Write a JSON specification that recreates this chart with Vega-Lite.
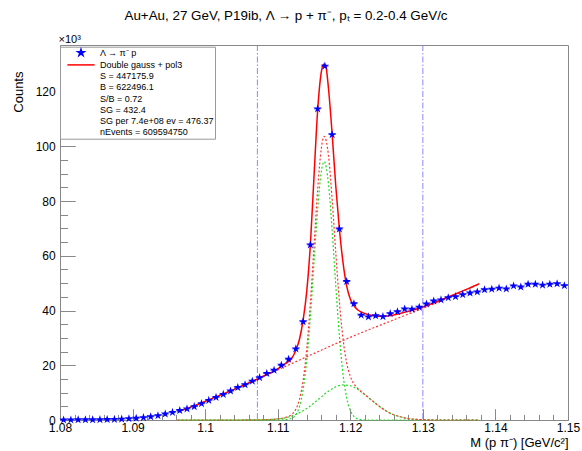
{
  "$schema": "https://vega.github.io/schema/vega-lite/v6.json",
  "width": 508,
  "height": 375,
  "autosize": {"type": "none"},
  "padding": {"left": 60, "top": 45, "right": 14, "bottom": 31},
  "background": "white",
  "config": {
    "font": "Liberation Sans",
    "view": {"stroke": "#888", "strokeWidth": 1}
  },
  "title": {
    "text": "Au+Au, 27 GeV, P19ib,  Λ → p + π⁻, pₜ = 0.2-0.4 GeV/c",
    "font": "Liberation Sans",
    "fontSize": 13.4,
    "fontWeight": "normal",
    "color": "black",
    "anchor": "middle",
    "baseline": "middle",
    "dx": -28,
    "offset": 4
  },
  "datasets": {
    "hist": [
      {"m": 1.0805, "c": 50}, {"m": 1.0815, "c": 50}, {"m": 1.0825, "c": 100}, {"m": 1.0835, "c": 100},
      {"m": 1.0845, "c": 100}, {"m": 1.0855, "c": 150}, {"m": 1.0865, "c": 200}, {"m": 1.0875, "c": 250},
      {"m": 1.0885, "c": 350}, {"m": 1.0895, "c": 500}, {"m": 1.0905, "c": 650}, {"m": 1.0915, "c": 900},
      {"m": 1.0925, "c": 1200}, {"m": 1.0935, "c": 1600}, {"m": 1.0945, "c": 2200}, {"m": 1.0955, "c": 2800},
      {"m": 1.0965, "c": 3500}, {"m": 1.0975, "c": 4100}, {"m": 1.0985, "c": 4900}, {"m": 1.0995, "c": 6000},
      {"m": 1.1005, "c": 7200}, {"m": 1.1015, "c": 8300}, {"m": 1.1025, "c": 9400}, {"m": 1.1035, "c": 10600},
      {"m": 1.1045, "c": 11900}, {"m": 1.1055, "c": 12900}, {"m": 1.1065, "c": 14200}, {"m": 1.1075, "c": 15500},
      {"m": 1.1085, "c": 17000}, {"m": 1.1095, "c": 18200}, {"m": 1.1105, "c": 20000}, {"m": 1.1115, "c": 22200},
      {"m": 1.1125, "c": 26000}, {"m": 1.1135, "c": 35900}, {"m": 1.1145, "c": 64000}, {"m": 1.1155, "c": 113700},
      {"m": 1.1165, "c": 129300}, {"m": 1.1175, "c": 104300}, {"m": 1.1185, "c": 69800}, {"m": 1.1195, "c": 50600},
      {"m": 1.1205, "c": 42500}, {"m": 1.1215, "c": 38300}, {"m": 1.1225, "c": 37700}, {"m": 1.1235, "c": 38100},
      {"m": 1.1245, "c": 37800}, {"m": 1.1255, "c": 38900}, {"m": 1.1265, "c": 39600}, {"m": 1.1275, "c": 40600},
      {"m": 1.1285, "c": 40500}, {"m": 1.1295, "c": 41200}, {"m": 1.1305, "c": 42400}, {"m": 1.1315, "c": 43500},
      {"m": 1.1325, "c": 43900}, {"m": 1.1335, "c": 44700}, {"m": 1.1345, "c": 45100}, {"m": 1.1355, "c": 45800},
      {"m": 1.1365, "c": 46400}, {"m": 1.1375, "c": 46800}, {"m": 1.1385, "c": 47600}, {"m": 1.1395, "c": 47800},
      {"m": 1.1405, "c": 48200}, {"m": 1.1415, "c": 47900}, {"m": 1.1425, "c": 49000}, {"m": 1.1435, "c": 48600},
      {"m": 1.1445, "c": 49600}, {"m": 1.1455, "c": 49600}, {"m": 1.1465, "c": 49300}, {"m": 1.1475, "c": 49600},
      {"m": 1.1485, "c": 49800}, {"m": 1.1495, "c": 49100}
    ],
    "fit": [
      {"m": 1.0962, "c": 3000}, {"m": 1.098, "c": 4700}, {"m": 1.1, "c": 6800}, {"m": 1.102, "c": 9000},
      {"m": 1.104, "c": 11200}, {"m": 1.106, "c": 13500}, {"m": 1.108, "c": 16000}, {"m": 1.11, "c": 18700},
      {"m": 1.111, "c": 20500}, {"m": 1.112, "c": 22800}, {"m": 1.1125, "c": 25500}, {"m": 1.113, "c": 29500},
      {"m": 1.1135, "c": 36500}, {"m": 1.114, "c": 47000}, {"m": 1.1145, "c": 64000}, {"m": 1.115, "c": 89000},
      {"m": 1.1155, "c": 113000}, {"m": 1.116, "c": 127000}, {"m": 1.1163, "c": 130000}, {"m": 1.1166, "c": 129500},
      {"m": 1.117, "c": 121000}, {"m": 1.1175, "c": 104500}, {"m": 1.118, "c": 85500}, {"m": 1.1185, "c": 69800},
      {"m": 1.119, "c": 57500}, {"m": 1.1195, "c": 49000}, {"m": 1.12, "c": 44200}, {"m": 1.1205, "c": 41700},
      {"m": 1.121, "c": 40300}, {"m": 1.122, "c": 38900}, {"m": 1.123, "c": 38200}, {"m": 1.124, "c": 37900},
      {"m": 1.125, "c": 38000}, {"m": 1.126, "c": 38400}, {"m": 1.127, "c": 39000}, {"m": 1.128, "c": 39700},
      {"m": 1.13, "c": 41300}, {"m": 1.132, "c": 43300}, {"m": 1.134, "c": 45500}, {"m": 1.136, "c": 47700},
      {"m": 1.1378, "c": 49800}
    ],
    "bkg": [
      {"m": 1.0962, "c": 3000}, {"m": 1.098, "c": 4700}, {"m": 1.1, "c": 6800}, {"m": 1.102, "c": 9000},
      {"m": 1.104, "c": 11200}, {"m": 1.106, "c": 13500}, {"m": 1.108, "c": 15900}, {"m": 1.11, "c": 18300},
      {"m": 1.112, "c": 20700}, {"m": 1.114, "c": 23100}, {"m": 1.116, "c": 25500}, {"m": 1.118, "c": 27900},
      {"m": 1.12, "c": 30200}, {"m": 1.122, "c": 32400}, {"m": 1.124, "c": 34500}, {"m": 1.126, "c": 36600},
      {"m": 1.128, "c": 38700}, {"m": 1.13, "c": 40800}, {"m": 1.132, "c": 43000}, {"m": 1.134, "c": 45300},
      {"m": 1.136, "c": 47600}, {"m": 1.1378, "c": 49700}
    ],
    "gsum": [
      {"m": 1.0962, "c": 0}, {"m": 1.104, "c": 0}, {"m": 1.108, "c": 100}, {"m": 1.11, "c": 400},
      {"m": 1.111, "c": 900}, {"m": 1.112, "c": 2200}, {"m": 1.1125, "c": 3900}, {"m": 1.113, "c": 7600},
      {"m": 1.1135, "c": 14400}, {"m": 1.114, "c": 25900}, {"m": 1.1145, "c": 42800}, {"m": 1.115, "c": 63500},
      {"m": 1.1155, "c": 84100}, {"m": 1.116, "c": 99000}, {"m": 1.1164, "c": 103600}, {"m": 1.117, "c": 96600},
      {"m": 1.1175, "c": 80600}, {"m": 1.118, "c": 61200}, {"m": 1.1185, "c": 43200}, {"m": 1.119, "c": 29600},
      {"m": 1.1195, "c": 20900}, {"m": 1.12, "c": 16000}, {"m": 1.1205, "c": 13200}, {"m": 1.121, "c": 11600},
      {"m": 1.122, "c": 9300}, {"m": 1.123, "c": 7100}, {"m": 1.124, "c": 5000}, {"m": 1.125, "c": 3200},
      {"m": 1.126, "c": 1900}, {"m": 1.127, "c": 1100}, {"m": 1.128, "c": 500}, {"m": 1.129, "c": 250},
      {"m": 1.13, "c": 100}, {"m": 1.132, "c": 0}, {"m": 1.1378, "c": 0}
    ],
    "g1": [
      {"m": 1.0962, "c": 0}, {"m": 1.11, "c": 0}, {"m": 1.111, "c": 100}, {"m": 1.112, "c": 700},
      {"m": 1.1125, "c": 1900}, {"m": 1.113, "c": 4900}, {"m": 1.1135, "c": 11000}, {"m": 1.114, "c": 21700},
      {"m": 1.1145, "c": 37600}, {"m": 1.115, "c": 57300}, {"m": 1.1155, "c": 76800}, {"m": 1.116, "c": 90600},
      {"m": 1.1164, "c": 94400}, {"m": 1.117, "c": 86100}, {"m": 1.1175, "c": 69300}, {"m": 1.118, "c": 49100},
      {"m": 1.1185, "c": 30700}, {"m": 1.119, "c": 16800}, {"m": 1.1195, "c": 8100}, {"m": 1.12, "c": 3500},
      {"m": 1.1205, "c": 1300}, {"m": 1.121, "c": 400}, {"m": 1.122, "c": 0}, {"m": 1.1378, "c": 0}
    ],
    "g2": [
      {"m": 1.0962, "c": 0}, {"m": 1.104, "c": 0}, {"m": 1.108, "c": 100}, {"m": 1.11, "c": 400},
      {"m": 1.111, "c": 800}, {"m": 1.112, "c": 1500}, {"m": 1.113, "c": 2700}, {"m": 1.114, "c": 4200},
      {"m": 1.115, "c": 6200}, {"m": 1.116, "c": 8400}, {"m": 1.117, "c": 10500}, {"m": 1.118, "c": 12100},
      {"m": 1.119, "c": 12800}, {"m": 1.12, "c": 12500}, {"m": 1.121, "c": 11200}, {"m": 1.122, "c": 9300},
      {"m": 1.123, "c": 7100}, {"m": 1.124, "c": 5000}, {"m": 1.125, "c": 3200}, {"m": 1.126, "c": 1900},
      {"m": 1.127, "c": 1100}, {"m": 1.128, "c": 500}, {"m": 1.129, "c": 250}, {"m": 1.13, "c": 100},
      {"m": 1.132, "c": 0}, {"m": 1.1378, "c": 0}
    ],
    "win": [{"m": 1.1072}, {"m": 1.13}]
  },
  "resolve": {"axis": {"x": "independent", "y": "independent"}},
  "layer": [
    {
      "data": {"name": "win"},
      "mark": {"type": "rule", "color": "#7a7aff", "strokeWidth": 0.9, "strokeDash": [6, 2, 1.5, 2]},
      "encoding": {
        "x": {"field": "m", "type": "quantitative", "scale": {"domain": [1.08, 1.15], "nice": false, "zero": false}, "axis": null}
      }
    },
    {
      "data": {"name": "g1"},
      "mark": {"type": "line", "color": "#22dd22", "strokeWidth": 1.2, "strokeDash": [2, 2], "interpolate": "monotone"},
      "encoding": {
        "x": {"field": "m", "type": "quantitative", "scale": {"domain": [1.08, 1.15], "nice": false, "zero": false}, "axis": null},
        "y": {"field": "c", "type": "quantitative", "scale": {"domain": [0, 137000], "nice": false}, "axis": null}
      }
    },
    {
      "data": {"name": "g2"},
      "mark": {"type": "line", "color": "#22dd22", "strokeWidth": 1.2, "strokeDash": [2, 2], "strokeDashOffset": 2, "interpolate": "monotone"},
      "encoding": {
        "x": {"field": "m", "type": "quantitative", "scale": {"domain": [1.08, 1.15], "nice": false, "zero": false}, "axis": null},
        "y": {"field": "c", "type": "quantitative", "scale": {"domain": [0, 137000], "nice": false}, "axis": null}
      }
    },
    {
      "data": {"name": "gsum"},
      "mark": {"type": "line", "color": "#ff3333", "strokeWidth": 1.2, "strokeDash": [2, 2], "interpolate": "monotone"},
      "encoding": {
        "x": {"field": "m", "type": "quantitative", "scale": {"domain": [1.08, 1.15], "nice": false, "zero": false}, "axis": null},
        "y": {"field": "c", "type": "quantitative", "scale": {"domain": [0, 137000], "nice": false}, "axis": null}
      }
    },
    {
      "data": {"name": "bkg"},
      "mark": {"type": "line", "color": "#ff3333", "strokeWidth": 1.2, "strokeDash": [2, 2], "interpolate": "monotone"},
      "encoding": {
        "x": {"field": "m", "type": "quantitative", "scale": {"domain": [1.08, 1.15], "nice": false, "zero": false}, "axis": null},
        "y": {"field": "c", "type": "quantitative", "scale": {"domain": [0, 137000], "nice": false}, "axis": null}
      }
    },
    {
      "data": {"name": "fit"},
      "mark": {"type": "line", "strokeWidth": 1.5, "interpolate": "monotone"},
      "encoding": {
        "x": {"field": "m", "type": "quantitative", "scale": {"domain": [1.08, 1.15], "nice": false, "zero": false}, "axis": null},
        "y": {
          "field": "c", "type": "quantitative", "scale": {"domain": [0, 137000], "nice": false},
          "axis": {
            "orient": "left", "title": "×10³", "labels": false, "ticks": false, "domain": false, "grid": false,
            "titleAngle": 0, "titleAlign": "left", "titleBaseline": "middle", "titleX": -2, "titleY": -6,
            "titleFontSize": 11, "titleFontWeight": "normal", "titleColor": "black", "titleFont": "Liberation Sans"
          }
        },
        "color": {
          "datum": "Double gauss + pol3",
          "scale": {
            "domain": ["Λ → π⁻ p", "Double gauss + pol3", "S = 447175.9", "B = 622496.1", "S/B = 0.72", "SG = 432.4", "SG per 7.4e+08 ev = 476.37", "nEvents = 609594750"],
            "range": ["blue", "red", "white", "white", "white", "white", "white", "white"]
          },
          "legend": {
            "orient": "none", "legendX": 0, "legendY": 1.7, "title": null, "direction": "vertical", "columns": 1,
            "padding": 1, "fillColor": "white", "strokeColor": "#999",
            "labelFont": "Liberation Sans", "labelFontSize": 9, "labelColor": "black", "labelLimit": 400,
            "symbolSize": 64, "symbolOffset": 15, "labelOffset": 14, "rowPadding": 1.2,
            "encode": {
              "symbols": {
                "update": {
                  "shape": {"signal": "datum.value === 'Λ → π⁻ p' ? 'M0,-0.85L0.19,-0.263L0.808,-0.263L0.309,0.1L0.5,0.688L0,0.325L-0.5,0.688L-0.309,0.1L-0.808,-0.263L-0.19,-0.263Z' : 'M-3.4,0L3.4,0'"},
                  "size": {"value": 64},
                  "fill": {"signal": "datum.value === 'Λ → π⁻ p' ? 'blue' : 'transparent'"},
                  "stroke": {"signal": "datum.value === 'Double gauss + pol3' ? 'red' : 'transparent'"},
                  "strokeWidth": {"value": 1.5},
                  "opacity": {"signal": "(datum.value === 'Λ → π⁻ p' || datum.value === 'Double gauss + pol3') ? 1 : 0"}
                }
              }
            }
          }
        }
      }
    },
    {
      "data": {"name": "hist"},
      "mark": {"type": "tick", "orient": "horizontal", "size": 7.26, "thickness": 1, "color": "blue"},
      "encoding": {
        "x": {
          "field": "m", "type": "quantitative", "scale": {"domain": [1.08, 1.15], "nice": false, "zero": false},
          "axis": {
            "orient": "bottom", "title": null, "labels": false, "domain": false, "grid": false,
            "values": [1.082,1.084,1.086,1.088,1.092,1.094,1.096,1.098,1.102,1.104,1.106,1.108,1.112,1.114,1.116,1.118,1.122,1.124,1.126,1.128,1.132,1.134,1.136,1.138,1.142,1.144,1.146,1.148],
            "tickSize": -5.6, "tickColor": "#888"
          }
        },
        "y": {
          "field": "c", "type": "quantitative", "scale": {"domain": [0, 137000], "nice": false},
          "axis": {
            "orient": "left", "title": null, "labels": false, "domain": false, "grid": false,
            "values": [5000,10000,15000,25000,30000,35000,45000,50000,55000,65000,70000,75000,85000,90000,95000,105000,110000,115000,125000,130000,135000],
            "tickSize": -7.6, "tickColor": "#888"
          }
        }
      }
    },
    {
      "data": {"name": "hist"},
      "mark": {"type": "point", "shape": "M0,-1L0.2245,-0.309L0.951,-0.309L0.363,0.118L0.588,0.809L0,0.382L-0.588,0.809L-0.363,0.118L-0.951,-0.309L-0.2245,-0.309Z", "filled": true, "size": 80, "opacity": 1},
      "encoding": {
        "x": {
          "field": "m", "type": "quantitative", "scale": {"domain": [1.08, 1.15], "nice": false, "zero": false},
          "axis": {
            "orient": "bottom",
            "values": [1.08,1.09,1.1,1.11,1.12,1.13,1.14,1.15],
            "format": ".2~f",
            "tickSize": -11.3,
            "grid": false, "domainColor": "#888", "tickColor": "#888",
            "labelFont": "Liberation Sans", "labelFontSize": 12, "labelColor": "black", "labelPadding": 14, "labelFlush": false, "labelOverlap": false,
            "title": "M (p π⁻) [GeV/c²]", "titleFont": "Liberation Sans", "titleFontSize": 13, "titleFontWeight": "normal", "titleColor": "black",
            "titleAlign": "right", "titleBaseline": "middle", "titleX": 508, "titleY": 22
          }
        },
        "y": {
          "field": "c", "type": "quantitative", "scale": {"domain": [0, 137000], "nice": false},
          "axis": {
            "orient": "left",
            "values": [0,20000,40000,60000,80000,100000,120000],
            "labelExpr": "format(datum.value/1000, 'd')",
            "tickSize": -15.2,
            "grid": false, "domainColor": "#888", "tickColor": "#888",
            "labelFont": "Liberation Sans", "labelFontSize": 12, "labelColor": "black", "labelPadding": 20, "labelFlush": false, "labelOverlap": false,
            "title": "Counts", "titleFont": "Liberation Sans", "titleFontSize": 13, "titleFontWeight": "normal", "titleColor": "black",
            "titleAngle": -90, "titleAlign": "right", "titleBaseline": "middle", "titleX": -42, "titleY": 26
          }
        },
        "color": {
          "datum": "Λ → π⁻ p",
          "scale": {
            "domain": ["Λ → π⁻ p", "Double gauss + pol3", "S = 447175.9", "B = 622496.1", "S/B = 0.72", "SG = 432.4", "SG per 7.4e+08 ev = 476.37", "nEvents = 609594750"],
            "range": ["blue", "red", "white", "white", "white", "white", "white", "white"]
          }
        }
      }
    }
  ]
}
